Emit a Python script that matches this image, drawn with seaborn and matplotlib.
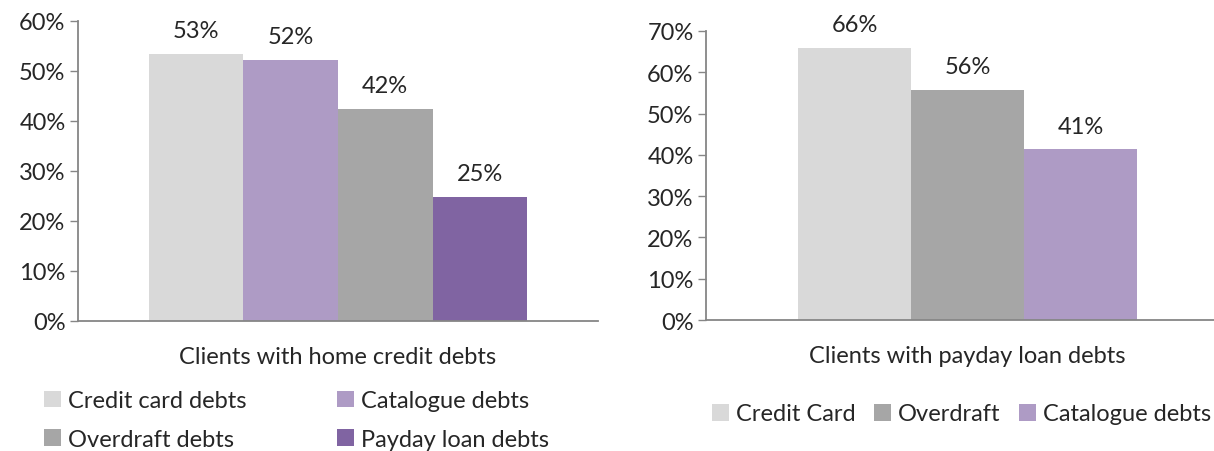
import matplotlib
matplotlib.use("Agg")
import matplotlib.pyplot as plt
import seaborn as sns
import pandas as pd
from matplotlib.patches import Patch
from matplotlib.ticker import PercentFormatter

# ---- data ----
home_category = ["Clients with home credit debts"]
home_series = ["Credit card debts", "Catalogue debts", "Overdraft debts", "Payday loan debts"]
home_values = [0.534, 0.522, 0.424, 0.249]

payday_category = ["Clients with payday loan debts"]
payday_series = ["Credit Card", "Overdraft", "Catalogue debts"]
payday_values = [0.660, 0.558, 0.414]

home_colors = ["#D9D9D9", "#AE9BC5", "#A6A6A6", "#8064A2"]
payday_colors = ["#D9D9D9", "#A6A6A6", "#AE9BC5"]

sns.set_style("white")
plt.rcParams["font.family"] = ["Lato", "DejaVu Sans"]
FS = 17
AXC = "#868686"
W, H = 1214, 452

fig = plt.figure(figsize=(W / 100, H / 100), dpi=100)
ax1 = fig.add_axes([78 / W, 1 - 322 / H, 520 / W, 300 / H])
ax2 = fig.add_axes([706 / W, 1 - 321 / H, 523 / W, 289 / H])


def draw(ax, category, series, values, colors, ymax, width, xlabel_x=0.5):
    df = pd.DataFrame({"cat": category * len(series), "series": series, "value": values})
    sns.barplot(data=df, x="cat", y="value", hue="series", hue_order=series,
                palette=colors, width=width, saturation=1, ax=ax, legend=False,
                edgecolor="none", linewidth=0)
    ax.set_xlim(-0.5, 0.5)
    ax.set_ylim(0, ymax)
    ax.yaxis.set_major_formatter(PercentFormatter(1.0, decimals=0))
    ax.set_yticks([i / 10 for i in range(int(round(ymax * 10)) + 1)])
    ax.set_xticks([-0.5, 0.5])
    ax.set_xticklabels(["", ""])
    ax.tick_params(axis="x", length=7, width=1, color=AXC, direction="out")
    ax.tick_params(axis="y", length=6, width=1, color=AXC, direction="out",
                   labelsize=FS, pad=3, left=True)
    for s in ["top", "right"]:
        ax.spines[s].set_visible(False)
    for s in ["left", "bottom"]:
        ax.spines[s].set_color(AXC)
        ax.spines[s].set_linewidth(1.3)
    ax.set_ylabel("")
    ax.set_xlabel(category[0], fontsize=FS, labelpad=8)
    ax.xaxis.set_label_coords(xlabel_x, -0.085)
    for cont in ax.containers:
        ax.bar_label(cont, labels=[f"{v*100:.0f}%" for v in cont.datavalues],
                     padding=9, fontsize=FS)
    return [Patch(facecolor=c, edgecolor="none") for c in colors]


h1 = draw(ax1, home_category, home_series, home_values, home_colors, 0.6, 0.727)
h2 = draw(ax2, payday_category, payday_series, payday_values, payday_colors, 0.7, 0.648)

order = [0, 2, 1, 3]
fig.legend([h1[i] for i in order], [home_series[i] for i in order], ncol=2,
           loc="center left", bbox_to_anchor=(44 / W, 1 - 421 / H), frameon=False,
           fontsize=FS, handlelength=0.7, handleheight=0.7, handletextpad=0.3,
           columnspacing=3.85, labelspacing=0.75, borderaxespad=0, borderpad=0)
fig.legend(h2, payday_series, ncol=3, loc="center left",
           bbox_to_anchor=(712 / W, 1 - 415 / H), frameon=False,
           fontsize=FS, handlelength=0.7, handleheight=0.7, handletextpad=0.3,
           columnspacing=0.8, borderaxespad=0, borderpad=0)

fig.savefig("out.png", dpi=100)
